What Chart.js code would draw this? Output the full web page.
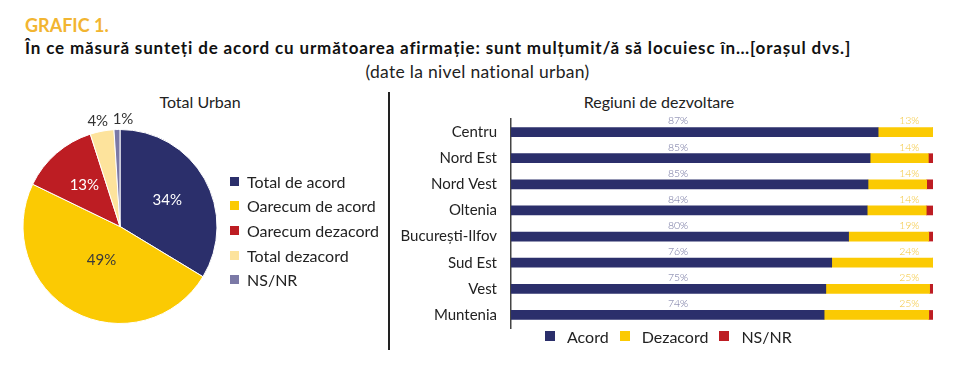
<!DOCTYPE html>
<html>
<head>
<meta charset="utf-8">
<script src="https://cdn.jsdelivr.net/npm/chart.js@4.4.1/dist/chart.umd.min.js"></script>
<style>
  body { margin: 0; background: #fff; font-family: Lato, sans-serif; color: #1e1e1e; }
  .wrap { position: relative; width: 963px; height: 372px; overflow: hidden; }
  .abs { position: absolute; white-space: nowrap; }
  #grafic { left: 25px; top: 14px; font-size: 18px; font-weight: 700; color: #f2b531; }
  #question { left: 25px; top: 37px; font-size: 17px; font-weight: 700; color: #111; letter-spacing: 0.85px; }
  #note { left: 0; width: 955px; text-align: center; top: 61px; font-size: 17.5px; color: #222; letter-spacing: 0.3px; }
  #pieTitle { left: 120px; width: 160px; text-align: center; top: 92px; font-size: 16px; color: #222; }
  #barTitle { left: 559px; width: 200px; text-align: center; top: 92px; font-size: 16px; color: #222; }
  #divider { left: 388px; top: 92px; width: 1.5px; height: 258px; background: #222; }
  #pieWrap { left: 0; top: 85px; width: 385px; height: 265px; }
  #barWrap { left: 390px; top: 85px; width: 573px; height: 287px; }
  .legend { font-size: 16px; color: #222; }
  .legend .item { display: flex; align-items: center; }
  .legend .sw { width: 9px; height: 9px; margin-right: 8px; }
  #pieLegend { left: 230px; top: 169px; }
  #pieLegend .item { height: 24.6px; }
  #barLegend { left: 545px; top: 325px; display: flex; }
  #barLegend .item { margin-right: 11px; height: 22px; }
  #barLegend .sw { margin-right: 12px; width: 10px; height: 10px; }
</style>
</head>
<body>
<div class="wrap">
  <div class="abs" id="grafic">GRAFIC 1.</div>
  <div class="abs" id="question">În ce măsură sunteți de acord cu următoarea afirmație: sunt mulțumit/ă să locuiesc în…[orașul dvs.]</div>
  <div class="abs" id="note">(date la nivel national urban)</div>
  <div class="abs" id="pieTitle">Total Urban</div>
  <div class="abs" id="barTitle">Regiuni de dezvoltare</div>
  <div class="abs" id="divider"></div>
  <div class="abs" id="pieWrap"><canvas id="pieChart"></canvas></div>
  <div class="abs" id="barWrap"><canvas id="barChart"></canvas></div>
  <div class="abs legend" id="pieLegend"></div>
  <div class="abs legend" id="barLegend"></div>
</div>
<script>
// Total Urban (pie)
const pieLabels = ['Total de acord', 'Oarecum de acord', 'Oarecum dezacord', 'Total dezacord', 'NS/NR'];
const pieValues = [34, 49, 13, 4, 1];
const pieColors = ['#2b2f6b', '#fbca03', '#bd1d23', '#fde39c', '#7b79a6'];
const pieTextColors = ['#ffffff', '#3a3a3a', '#ffffff', '#333333', '#333333'];

// Regiuni de dezvoltare (stacked bars)
const regions = ['Centru', 'Nord Est', 'Nord Vest', 'Oltenia', 'București-Ilfov', 'Sud Est', 'Vest', 'Muntenia'];
const acord = [87, 85.1, 84.6, 84.4, 80, 76, 74.6, 74.2];
const dezacord = [13, 13.8, 13.9, 14, 19, 24, 24.6, 24.8];
const nsnr = [0, 1.1, 1.5, 1.6, 1, 0, 0.8, 1];
const barSeries = ['Acord', 'Dezacord', 'NS/NR'];
const barColors = ['#2b2f6b', '#fbca03', '#bd1d23'];

document.addEventListener('DOMContentLoaded', () => {
    // html legends
    function buildLegend(el, labels, colors) {
        labels.forEach((lab, i) => {
            const item = document.createElement('div');
            item.className = 'item';
            const sw = document.createElement('span');
            sw.className = 'sw';
            sw.style.background = colors[i];
            item.appendChild(sw);
            item.appendChild(document.createTextNode(lab));
            el.appendChild(item);
        });
    }
    buildLegend(document.getElementById('pieLegend'), pieLabels, pieColors);
    buildLegend(document.getElementById('barLegend'), barSeries, barColors);

    // percent labels on the pie slices
    const pieLabelPlugin = {
        id: 'pieLabels',
        afterDatasetsDraw(chart) {
            const ctx = chart.ctx;
            const meta = chart.getDatasetMeta(0);
            ctx.save();
            ctx.font = '15px Lato';
            ctx.textBaseline = 'middle';
            meta.data.forEach((arc, i) => {
                const v = pieValues[i];
                const mid = (arc.startAngle + arc.endAngle) / 2;
                let r, dx = 0, align = 'center';
                if (v < 5) {
                    // small slices: label outside, above the pie
                    r = arc.outerRadius + 10;
                    if (Math.cos(mid) * r < -10) {
                        align = 'right';
                        dx = 8;
                    } else {
                        align = 'left';
                        dx = -4;
                    }
                } else if (v > 40) {
                    r = arc.outerRadius * 0.4;
                } else {
                    r = arc.outerRadius * 0.56;
                }
                const x = arc.x + Math.cos(mid) * r + dx;
                const y = arc.y + Math.sin(mid) * r;
                ctx.textAlign = align;
                ctx.fillStyle = pieTextColors[i];
                ctx.fillText(v + '%', x, y);
            });
            ctx.restore();
        }
    };

    new Chart(document.getElementById('pieChart').getContext('2d'), {
        type: 'pie',
        data: {
            labels: pieLabels,
            datasets: [{
                data: pieValues,
                backgroundColor: pieColors,
                borderColor: '#ffffff',
                borderWidth: 1
            }]
        },
        options: {
            responsive: true,
            maintainAspectRatio: false,
            animation: false,
            layout: { padding: { left: 22, top: 44, right: 167, bottom: 26 } },
            plugins: { legend: { display: false }, tooltip: { enabled: false } }
        },
        plugins: [pieLabelPlugin]
    });

    // percent labels above the bars
    const barLabelPlugin = {
        id: 'barLabels',
        afterDatasetsDraw(chart) {
            const ctx = chart.ctx;
            const xs = chart.scales.x;
            ctx.save();
            ctx.font = '300 10.5px Lato';
            ctx.textBaseline = 'middle';
            chart.getDatasetMeta(0).data.forEach((bar, i) => {
                ctx.textAlign = 'center';
                ctx.fillStyle = '#6d6f9c';
                ctx.fillText(Math.round(acord[i]) + '%', xs.getPixelForValue(39.6), bar.y - 11);
                ctx.textAlign = 'right';
                ctx.fillStyle = '#f3c63a';
                ctx.fillText(Math.round(dezacord[i]) + '%', xs.getPixelForValue(96.8), bar.y - 11);
            });
            ctx.restore();
        }
    };

    new Chart(document.getElementById('barChart').getContext('2d'), {
        type: 'bar',
        data: {
            labels: regions,
            datasets: [
                { label: barSeries[0], data: acord, backgroundColor: barColors[0] },
                { label: barSeries[1], data: dezacord, backgroundColor: barColors[1] },
                { label: barSeries[2], data: nsnr, backgroundColor: barColors[2] }
            ]
        },
        options: {
            indexAxis: 'y',
            responsive: true,
            maintainAspectRatio: false,
            animation: false,
            barThickness: 9,
            layout: { padding: { left: 0, top: 34, right: 30, bottom: 44 } },
            scales: {
                x: { stacked: true, min: 0, max: 100, display: false },
                y: {
                    stacked: true,
                    grid: { display: false },
                    border: { color: '#444', width: 1.5 },
                    ticks: { color: '#222', font: { family: 'Lato', size: 15 }, padding: 6 },
                    afterFit(scale) { scale.width = 121; }
                }
            },
            plugins: { legend: { display: false }, tooltip: { enabled: false } }
        },
        plugins: [barLabelPlugin]
    });
});
</script>
</body>
</html>
